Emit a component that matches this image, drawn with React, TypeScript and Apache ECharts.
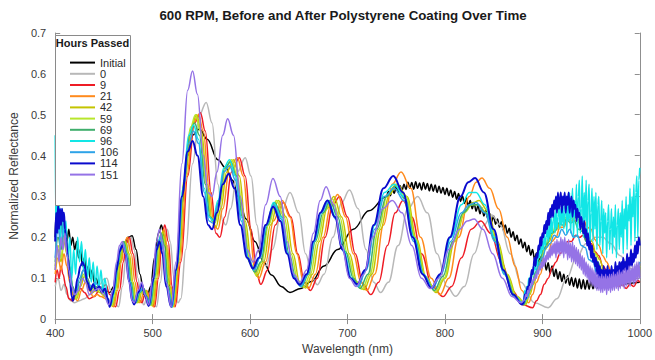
import React, { useEffect, useRef } from "react";
import * as echarts from "echarts";

type P = [number, number][];

const hourLabels = ["Initial", "0", "9", "21", "42", "59", "69", "96", "106", "114", "151"];
const lineColors = ["#000000", "#b8b8b8", "#ee1c25", "#ff8a1c", "#c4c400", "#b8e62c", "#3fae6c", "#12e6e6", "#2ea3e8", "#0a0acd", "#9573e6"];

const xTicks = [400, 500, 600, 700, 800, 900, 1000];
const yTicks = [0, 0.1, 0.2, 0.3, 0.4, 0.5, 0.6, 0.7];

// Initial: main part, then a dense noisy stretch sampled every 2 nm from 740 nm, then the end
const initialHead: P = [[400,0.2],[401,0.26],[402,0.22],[403,0.27],[404,0.21],[406,0.25],[408,0.2],[410,0.23],[412,0.19],[414,0.22],[416,0.18],[418,0.2],[420,0.17],[422,0.19],[424,0.15],[426,0.17],[428,0.13],[430,0.15],[432,0.11],[434,0.13],[436,0.1],[438,0.12],[440,0.09],[442,0.1],[445,0.08],[448,0.075],[452,0.07],[456,0.065],[460,0.08],[465,0.13],[470,0.18],[475,0.2],[479,0.204],[483,0.17],[487,0.11],[491,0.06],[494,0.05],[498,0.08],[502,0.15],[506,0.21],[509,0.23],[512,0.2],[516,0.1],[519.5,0.03],[524,0.1],[530,0.28],[536,0.4],[541,0.45],[548,0.465],[556,0.44],[567,0.39],[575,0.37],[582,0.34],[588,0.3],[596,0.245],[605,0.19],[614,0.14],[622,0.108],[632,0.08],[641,0.065],[652,0.075],[663,0.092],[676,0.13],[690,0.17],[706,0.22],[722,0.265]];
const initialNoiseStart = 740;
const initialNoise = [0.3,0.312,0.302,0.318,0.308,0.324,0.31,0.326,0.315,0.33,0.317,0.335,0.32,0.334,0.318,0.336,0.32,0.333,0.316,0.334,0.318,0.332,0.314,0.33,0.313,0.328,0.31,0.325,0.308,0.322,0.305,0.32,0.302,0.316,0.298,0.312,0.293,0.307,0.288,0.302,0.283,0.296,0.277,0.29,0.27,0.284,0.264,0.278,0.258,0.272,0.252,0.265,0.246,0.258,0.238,0.252,0.232,0.245,0.225,0.238,0.218,0.23,0.21,0.222,0.2,0.214,0.192,0.205,0.183,0.196,0.174,0.188,0.165,0.18,0.156,0.17,0.146,0.162,0.138,0.152,0.128,0.145,0.12,0.138,0.112,0.13,0.104,0.122,0.098,0.116,0.092,0.11,0.088,0.106,0.083,0.102,0.08,0.1,0.076,0.098,0.074,0.096,0.073,0.095,0.073,0.094,0.074,0.093,0.075,0.092,0.077];
const initialTail: P = [[966,0.09],[970,0.082],[975,0.09],[980,0.084],[990,0.088],[1000,0.09]];

const h0Data: P = [[400,0.08],[403,0.1],[406,0.07],[409,0.085],[412,0.06],[416,0.045],[420,0.04],[425,0.045],[430,0.05],[436,0.06],[441,0.07],[446,0.085],[450,0.098],[453,0.1],[457,0.07],[461,0.04],[465,0.03],[469,0.08],[473,0.16],[476,0.195],[478,0.2],[481,0.17],[485,0.1],[488,0.05],[491,0.035],[494,0.05],[497,0.06],[500,0.045],[504,0.03],[508,0.09],[512,0.19],[515,0.22],[518,0.19],[522,0.1],[526,0.04],[529,0.05],[534,0.17],[541,0.38],[548,0.5],[555,0.53],[561,0.48],[567,0.33],[572,0.24],[575,0.23],[580,0.27],[587,0.36],[595,0.395],[601,0.35],[607,0.23],[612,0.15],[616,0.13],[623,0.17],[632,0.26],[641,0.31],[650,0.26],[657,0.16],[664,0.1],[669,0.084],[676,0.11],[685,0.2],[694,0.285],[702,0.316],[711,0.27],[719,0.17],[727,0.09],[734,0.065],[742,0.09],[752,0.18],[762,0.27],[772,0.3],[782,0.26],[792,0.16],[802,0.08],[811,0.056],[820,0.08],[830,0.16],[840,0.23],[848,0.255],[857,0.23],[867,0.16],[878,0.09],[892,0.04],[906,0.028],[915,0.05],[925,0.1],[935,0.15],[945,0.185],[955,0.2],[962,0.2],[970,0.185],[980,0.155],[990,0.125],[1000,0.1]];

const h9Data: P = [[400,0.09],[402,0.12],[404,0.1],[406,0.13],[408,0.11],[411,0.08],[414,0.05],[418,0.045],[422,0.06],[426,0.075],[430,0.065],[435,0.05],[440,0.055],[445,0.07],[449,0.08],[452,0.084],[456,0.06],[462,0.03],[466,0.07],[470,0.14],[473,0.185],[476,0.2],[480,0.16],[484,0.09],[487,0.045],[489,0.04],[492,0.06],[495,0.065],[498,0.05],[502,0.03],[506,0.1],[510,0.21],[512.5,0.23],[516,0.19],[520,0.08],[523,0.03],[529,0.14],[536,0.35],[543,0.48],[549,0.505],[554,0.46],[560,0.31],[565,0.21],[569,0.2],[574,0.25],[581,0.36],[589,0.395],[595,0.35],[601,0.22],[607,0.11],[611,0.085],[618,0.12],[626,0.23],[634,0.285],[642,0.25],[649,0.16],[656,0.09],[662,0.07],[669,0.1],[677,0.2],[685,0.28],[692,0.3],[700,0.25],[708,0.16],[716,0.085],[724,0.06],[732,0.09],[741,0.18],[749,0.26],[757,0.29],[766,0.25],[776,0.16],[787,0.08],[798,0.055],[807,0.08],[817,0.15],[827,0.22],[837,0.24],[847,0.21],[858,0.14],[869,0.07],[880,0.035],[890,0.028],[894,0.045],[898,0.06],[902,0.085],[906,0.1],[910,0.125],[914,0.14],[918,0.16],[922,0.17],[926,0.19],[930,0.19],[934,0.205],[938,0.2],[942,0.205],[946,0.19],[950,0.185],[954,0.165],[958,0.155],[962,0.13],[966,0.12],[970,0.1],[974,0.095],[978,0.08],[982,0.085],[986,0.075],[990,0.085],[994,0.08],[998,0.095],[1000,0.09]];

const h21Data: P = [[400,0.11],[403,0.15],[406,0.12],[409,0.16],[412,0.13],[415,0.09],[419,0.055],[423,0.045],[427,0.07],[431,0.09],[435,0.07],[439,0.055],[443,0.06],[447,0.055],[452,0.05],[456,0.04],[460,0.03],[464,0.07],[468,0.14],[471,0.185],[474,0.2],[478,0.16],[482,0.09],[485,0.045],[487,0.04],[491,0.065],[494,0.07],[497,0.05],[501,0.03],[505,0.1],[509,0.2],[511.5,0.22],[515,0.18],[519,0.08],[522,0.03],[528,0.14],[535,0.35],[542,0.48],[547,0.5],[552,0.46],[558,0.32],[563,0.23],[567,0.22],[572,0.27],[579,0.37],[587,0.395],[593,0.35],[599,0.23],[605,0.12],[609,0.1],[616,0.14],[624,0.24],[633,0.29],[641,0.25],[648,0.16],[655,0.09],[660,0.075],[667,0.11],[675,0.2],[683,0.28],[690,0.305],[698,0.25],[706,0.16],[714,0.09],[720,0.07],[728,0.11],[737,0.23],[746,0.33],[755,0.36],[765,0.32],[775,0.2],[786,0.1],[795,0.06],[804,0.1],[814,0.2],[825,0.3],[832,0.335],[838,0.345],[846,0.32],[855,0.27],[864,0.2],[872,0.13],[879,0.07],[886,0.04],[890,0.06],[894,0.09],[898,0.11],[902,0.145],[906,0.16],[910,0.19],[914,0.2],[918,0.225],[922,0.225],[926,0.245],[930,0.24],[934,0.255],[938,0.24],[942,0.245],[946,0.225],[950,0.22],[954,0.195],[958,0.18],[962,0.155],[966,0.14],[970,0.12],[974,0.11],[978,0.1],[982,0.1],[986,0.09],[990,0.1],[994,0.095],[998,0.11],[1000,0.105]];

const h42Data: P = [[400,0.12],[403,0.17],[406,0.14],[409,0.19],[412,0.16],[415,0.11],[418,0.065],[422,0.05],[426,0.08],[430,0.105],[434,0.085],[438,0.065],[442,0.07],[446,0.065],[451,0.055],[455,0.04],[459,0.032],[463,0.07],[467,0.14],[470,0.18],[472,0.19],[476,0.16],[480,0.09],[483,0.045],[485,0.04],[489,0.065],[493,0.07],[496,0.05],[500,0.033],[504,0.1],[508,0.19],[510.5,0.215],[514,0.18],[518,0.08],[521,0.03],[527,0.14],[533,0.34],[540,0.47],[545,0.5],[550,0.46],[556,0.33],[561,0.24],[565,0.225],[570,0.27],[576,0.36],[583,0.39],[589,0.35],[595,0.24],[602,0.13],[607,0.105],[614,0.14],[621,0.23],[629,0.29],[637,0.25],[644,0.16],[651,0.09],[657,0.076],[664,0.11],[671,0.19],[679,0.27],[686,0.3],[694,0.25],[702,0.16],[710,0.09],[717,0.072],[725,0.11],[734,0.22],[743,0.305],[751,0.33],[761,0.3],[771,0.195],[781,0.1],[791,0.065],[800,0.1],[810,0.19],[821,0.265],[829,0.285],[835,0.29],[844,0.265],[854,0.19],[864,0.11],[874,0.055],[883,0.036],[887,0.06],[891,0.085],[895,0.115],[899,0.14],[903,0.17],[907,0.19],[911,0.21],[915,0.22],[919,0.24],[923,0.24],[927,0.255],[931,0.245],[935,0.25],[939,0.23],[943,0.225],[947,0.2],[951,0.19],[955,0.16],[959,0.145],[963,0.12],[967,0.11],[971,0.095],[975,0.095],[979,0.09],[983,0.1],[987,0.095],[991,0.11],[995,0.11],[1000,0.125]];

const h59Data: P = [[400,0.13],[403,0.18],[406,0.15],[409,0.2],[412,0.17],[415,0.12],[418,0.07],[421,0.05],[425,0.08],[429,0.11],[433,0.09],[437,0.07],[441,0.075],[445,0.07],[450,0.06],[454,0.045],[458,0.033],[462,0.07],[466,0.14],[469,0.18],[471,0.19],[475,0.16],[479,0.09],[482,0.045],[484,0.04],[488,0.065],[492,0.07],[495,0.05],[499,0.033],[503,0.1],[507,0.19],[509.5,0.21],[513,0.18],[517,0.08],[520.5,0.03],[526,0.14],[532,0.34],[539,0.47],[544,0.5],[549,0.46],[555,0.33],[560,0.25],[564,0.235],[569,0.28],[575,0.37],[581,0.39],[587,0.35],[593,0.25],[600,0.14],[606,0.11],[612,0.14],[619,0.23],[627,0.29],[635,0.25],[642,0.16],[649,0.095],[655,0.078],[662,0.11],[669,0.19],[677,0.265],[684,0.295],[692,0.25],[700,0.16],[708,0.095],[715,0.073],[723,0.11],[732,0.22],[741,0.305],[750,0.33],[760,0.3],[770,0.195],[780,0.105],[790,0.068],[799,0.1],[809,0.19],[820,0.26],[828,0.28],[834,0.28],[843,0.26],[853,0.19],[863,0.11],[873,0.055],[882,0.035],[886,0.06],[890,0.085],[894,0.115],[898,0.145],[902,0.17],[906,0.195],[910,0.21],[914,0.23],[918,0.235],[922,0.25],[926,0.245],[930,0.255],[934,0.24],[938,0.24],[942,0.215],[946,0.205],[950,0.175],[954,0.16],[958,0.13],[962,0.12],[966,0.1],[970,0.1],[974,0.09],[978,0.1],[982,0.095],[986,0.11],[990,0.105],[994,0.12],[998,0.12],[1000,0.13]];

const h69Data: P = [[400,0.14],[403,0.2],[406,0.17],[409,0.22],[412,0.19],[415,0.13],[418,0.08],[421,0.06],[425,0.09],[429,0.12],[433,0.1],[437,0.075],[441,0.08],[445,0.075],[450,0.065],[454,0.05],[457,0.035],[461,0.07],[465,0.14],[468,0.18],[470.5,0.19],[474,0.16],[478,0.09],[481,0.045],[483,0.04],[487,0.065],[491,0.075],[494,0.055],[498,0.035],[502,0.1],[506,0.19],[509,0.21],[512,0.18],[516,0.08],[520,0.03],[525,0.13],[532,0.33],[538,0.45],[543,0.48],[548,0.45],[554,0.33],[559,0.25],[563,0.24],[568,0.29],[574,0.37],[580,0.385],[586,0.35],[592,0.25],[599,0.14],[605,0.115],[611,0.14],[618,0.23],[625,0.285],[633,0.25],[640,0.16],[647,0.1],[653,0.08],[660,0.11],[667,0.19],[675,0.26],[682,0.29],[690,0.25],[698,0.165],[706,0.1],[713,0.075],[721,0.11],[730,0.22],[740,0.3],[749,0.325],[759,0.295],[769,0.195],[779,0.105],[789,0.07],[798,0.105],[808,0.19],[819,0.26],[827,0.28],[833,0.28],[842,0.26],[852,0.19],[862,0.11],[872,0.055],[881,0.035],[885,0.06],[889,0.08],[893,0.115],[897,0.14],[901,0.17],[905,0.185],[909,0.21],[913,0.215],[917,0.235],[921,0.23],[925,0.245],[929,0.235],[933,0.24],[937,0.22],[941,0.215],[945,0.19],[949,0.18],[953,0.15],[957,0.14],[961,0.115],[965,0.11],[969,0.095],[973,0.1],[977,0.09],[981,0.105],[985,0.1],[989,0.115],[993,0.11],[997,0.13],[1000,0.125]];

const h96Head: P = [[400,0.45],[401,0.2],[402,0.38],[403,0.22],[404,0.3],[405,0.18],[407,0.27],[409,0.2],[411,0.24],[413,0.14],[415,0.2],[417,0.1],[419,0.17],[421,0.11],[423,0.2],[425,0.14],[427,0.19],[429,0.12],[431,0.17],[433,0.1],[435,0.15],[437,0.09],[439,0.14],[441,0.08],[443,0.13],[445,0.08],[447,0.12],[449,0.07],[451,0.1],[454,0.05],[457,0.035],[460,0.06],[464,0.13],[467,0.17],[470,0.185],[473,0.16],[477,0.09],[480,0.045],[482,0.04],[486,0.065],[490,0.075],[493,0.055],[497,0.035],[501,0.1],[505,0.18],[508,0.2],[511,0.17],[515,0.08],[520,0.03],[525,0.13],[531,0.32],[537,0.45],[542,0.475],[547,0.44],[553,0.32],[558,0.25],[562,0.24],[567,0.29],[573,0.37],[579,0.39],[585,0.35],[591,0.25],[598,0.15],[604,0.12],[610,0.15],[617,0.23],[624,0.285],[632,0.25],[639,0.16],[646,0.1],[652,0.08],[659,0.11],[666,0.19],[673,0.26],[680,0.29],[688,0.25],[696,0.17],[704,0.1],[711,0.08],[719,0.12],[728,0.23],[738,0.31],[748,0.33],[758,0.3],[768,0.2],[778,0.11],[787,0.075],[796,0.11],[806,0.2],[817,0.28],[825,0.31],[832,0.31],[841,0.28],[851,0.2],[861,0.11],[871,0.055],[880,0.04]];
const noiseStart = 881; // 1 nm steps to 1000 nm
const h96Noise = [0.05,0.07,0.06,0.08,0.07,0.1,0.08,0.11,0.1,0.12,0.11,0.14,0.12,0.15,0.13,0.17,0.15,0.18,0.16,0.19,
  0.17,0.21,0.18,0.2,0.22,0.19,0.23,0.2,0.25,0.21,0.24,0.26,0.21,0.27,0.22,0.25,0.28,0.22,0.27,0.23,
  0.29,0.22,0.26,0.3,0.21,0.28,0.24,0.31,0.21,0.27,0.32,0.2,0.29,0.25,0.33,0.2,0.3,0.34,0.21,0.27,
  0.35,0.2,0.31,0.24,0.34,0.19,0.29,0.33,0.18,0.26,0.32,0.19,0.3,0.22,0.31,0.17,0.28,0.3,0.18,0.24,
  0.29,0.16,0.27,0.21,0.26,0.15,0.24,0.28,0.17,0.22,0.27,0.16,0.25,0.2,0.28,0.15,0.23,0.27,0.17,0.26,
  0.2,0.29,0.16,0.27,0.22,0.3,0.17,0.28,0.24,0.32,0.18,0.3,0.25,0.33,0.19,0.31,0.35,0.2,0.34,0.37];

const h106Data: P = [[400,0.15],[403,0.22],[406,0.18],[409,0.24],[412,0.17],[415,0.12],[418,0.07],[421,0.06],[425,0.1],[429,0.12],[433,0.09],[437,0.08],[441,0.09],[445,0.08],[450,0.07],[456,0.035],[460,0.07],[464,0.14],[467,0.175],[470,0.185],[473,0.16],[477,0.09],[480,0.045],[482,0.04],[486,0.065],[490,0.075],[493,0.055],[497,0.035],[501,0.1],[505,0.18],[508,0.2],[511,0.17],[515,0.08],[520,0.03],[525,0.13],[531,0.31],[537,0.43],[542,0.46],[547,0.43],[553,0.31],[558,0.24],[562,0.235],[567,0.28],[573,0.36],[579,0.375],[585,0.34],[591,0.24],[598,0.15],[604,0.12],[610,0.15],[617,0.23],[624,0.28],[632,0.245],[639,0.16],[646,0.1],[652,0.08],[659,0.11],[666,0.19],[673,0.26],[680,0.285],[688,0.245],[696,0.165],[704,0.1],[711,0.08],[719,0.12],[728,0.22],[738,0.3],[748,0.32],[758,0.29],[768,0.19],[778,0.11],[787,0.075],[796,0.11],[806,0.19],[817,0.26],[825,0.28],[832,0.285],[841,0.26],[851,0.19],[861,0.11],[871,0.055],[880,0.038],[884,0.05],[888,0.075],[892,0.1],[896,0.13],[900,0.15],[904,0.175],[908,0.185],[912,0.205],[916,0.2],[920,0.22],[924,0.205],[928,0.22],[932,0.2],[936,0.205],[940,0.18],[944,0.175],[948,0.145],[952,0.14],[956,0.11],[960,0.115],[964,0.09],[968,0.1],[972,0.085],[976,0.1],[980,0.09],[984,0.11],[988,0.1],[992,0.12],[996,0.115],[1000,0.14]];

const h114Head: P = [[400,0.19],[401,0.26],[402,0.21],[403,0.28],[404,0.22],[405,0.27],[406,0.23],[407,0.27],[408,0.24],[409,0.26],[410,0.22],[411,0.2],[413,0.15],[415,0.1],[417,0.055],[418,0.045],[420,0.06],[423,0.1],[426,0.13],[428,0.14],[430,0.13],[433,0.09],[436,0.07],[439,0.085],[442,0.07],[445,0.08],[448,0.065],[451,0.075],[454,0.05],[456,0.03],[459,0.06],[463,0.12],[466,0.165],[469,0.18],[472,0.16],[476,0.09],[479,0.045],[481,0.036],[485,0.065],[489,0.085],[492,0.06],[496,0.032],[500,0.09],[504,0.17],[507,0.19],[510,0.16],[514,0.08],[519,0.03],[524,0.12],[530,0.3],[536,0.41],[541,0.436],[546,0.4],[552,0.3],[557,0.23],[561,0.22],[566,0.26],[572,0.33],[578,0.355],[584,0.32],[590,0.23],[597,0.15],[603,0.124],[609,0.15],[616,0.23],[623.7,0.275],[631,0.24],[638,0.16],[645,0.1],[651,0.084],[658,0.11],[665,0.19],[672,0.26],[679.5,0.29],[687,0.25],[695,0.17],[703,0.1],[710,0.085],[718,0.12],[727,0.23],[737,0.32],[747,0.35],[757,0.31],[767,0.2],[777,0.11],[786,0.076],[795,0.11],[805,0.2],[816,0.3],[824,0.335],[831,0.345],[840,0.31],[850,0.22],[860,0.12],[870,0.06],[879,0.036]];
const h114Noise = [0.04,0.06,0.05,0.07,0.08,0.07,0.1,0.09,0.12,0.11,0.13,0.15,0.13,0.16,0.15,0.18,0.17,0.2,0.18,0.21,
  0.2,0.23,0.21,0.24,0.22,0.26,0.23,0.27,0.25,0.28,0.25,0.29,0.27,0.3,0.26,0.31,0.27,0.29,0.31,0.26,
  0.3,0.28,0.31,0.26,0.3,0.28,0.31,0.26,0.29,0.3,0.25,0.29,0.27,0.28,0.24,0.27,0.25,0.26,0.22,0.25,
  0.23,0.21,0.24,0.2,0.22,0.18,0.21,0.17,0.19,0.15,0.18,0.14,0.16,0.13,0.15,0.11,0.14,0.1,0.13,0.1,
  0.12,0.09,0.13,0.08,0.12,0.1,0.13,0.09,0.12,0.08,0.13,0.1,0.12,0.09,0.14,0.1,0.13,0.1,0.14,0.11,
  0.14,0.11,0.15,0.12,0.14,0.11,0.16,0.12,0.15,0.13,0.17,0.13,0.16,0.14,0.18,0.15,0.19,0.16,0.2,0.18];

const h151Head: P = [[400,0.12],[402,0.18],[404,0.14],[406,0.2],[408,0.17],[410,0.21],[412,0.16],[414,0.12],[417,0.08],[420,0.06],[424,0.07],[428,0.1],[431,0.09],[435,0.06],[440,0.07],[445,0.075],[450,0.06],[455,0.035],[459,0.07],[463,0.14],[466,0.18],[469,0.19],[472,0.16],[476,0.09],[479,0.045],[481,0.04],[485,0.07],[489,0.09],[492,0.06],[496,0.035],[500,0.1],[504,0.19],[507,0.22],[510,0.19],[514,0.09],[519,0.03],[524,0.14],[530,0.38],[536,0.56],[541,0.607],[546,0.55],[552,0.4],[557,0.31],[561,0.3],[566,0.36],[572,0.45],[577,0.49],[583,0.45],[590,0.3],[597,0.17],[603,0.14],[609,0.17],[616,0.28],[623.5,0.344],[631,0.3],[638,0.19],[645,0.11],[651,0.09],[658,0.12],[665,0.21],[672,0.29],[678,0.324],[686,0.28],[694,0.18],[702,0.1],[709,0.08],[717,0.11],[726,0.2],[736,0.27],[746,0.29],[756,0.26],[766,0.18],[776,0.1],[785,0.075],[794,0.1],[804,0.17],[815,0.22],[823,0.24],[830,0.245],[839,0.22],[849,0.16],[859,0.1],[869,0.055],[878,0.04]];
const h151Noise = [0.045,0.05,0.06,0.055,0.07,0.065,0.08,0.075,0.09,0.085,0.1,0.095,0.11,0.1,0.12,0.11,0.13,0.12,0.14,0.125,
  0.15,0.13,0.155,0.14,0.165,0.145,0.17,0.15,0.18,0.155,0.185,0.16,0.19,0.15,0.195,0.16,0.19,0.155,0.2,0.16,
  0.195,0.15,0.2,0.16,0.19,0.145,0.195,0.15,0.185,0.14,0.19,0.14,0.18,0.135,0.175,0.13,0.17,0.125,0.16,0.12,
  0.155,0.11,0.15,0.105,0.14,0.1,0.135,0.09,0.13,0.085,0.125,0.08,0.12,0.075,0.115,0.07,0.11,0.07,0.105,0.065,
  0.11,0.065,0.105,0.07,0.11,0.06,0.105,0.07,0.11,0.065,0.11,0.07,0.115,0.07,0.11,0.075,0.115,0.07,0.12,0.075,
  0.115,0.08,0.12,0.075,0.125,0.08,0.12,0.085,0.13,0.08,0.125,0.09,0.13,0.085,0.135,0.09,0.14,0.095,0.14,0.1];

const sampled = (start: number, step: number, ys: number[]): P => ys.map((y, i) => [start + i * step, y]);

const seriesData: P[] = [
  [...initialHead, ...sampled(initialNoiseStart, 2, initialNoise), ...initialTail],
  h0Data, h9Data, h21Data, h42Data, h59Data, h69Data,
  [...h96Head, ...sampled(noiseStart, 1, h96Noise)],
  h106Data,
  [...h114Head, ...sampled(noiseStart, 1, h114Noise)],
  [...h151Head, ...sampled(noiseStart, 1, h151Noise)],
];

const FONT = "'Liberation Sans', Arial, Helvetica, sans-serif";

export default function App() {
  const ref = useRef<HTMLDivElement>(null);
  useEffect(() => {
    if (!ref.current) return;
    const chart = echarts.init(ref.current, undefined, { renderer: "svg" });
    const axisColor = "#8f8f8f";
    const labelColor = "#3a3a3a";
    const option: any = {
      animation: false,
      backgroundColor: "#ffffff",
      textStyle: { fontFamily: FONT },
      grid: { left: 47, right: 15, top: 33, bottom: 35, show: false },
      legend: {
        data: hourLabels,
        orient: "vertical",
        left: 64,
        top: 52,
        itemWidth: 25,
        itemHeight: 14,
        itemGap: 0,
        selectedMode: false,
        z: 60,
        itemStyle: { opacity: 0 },
        textStyle: { fontFamily: FONT, fontSize: 11, color: "#2a2a2a" },
      },
      graphic: [
        {
          type: "text",
          z: 61,
          x: 343,
          y: 15,
          style: {
            text: "600 RPM, Before and After Polystyrene Coating Over Time",
            fontFamily: FONT,
            fontSize: 13.3,
            fontWeight: "bold",
            fill: "#1a1a1a",
            textAlign: "center",
            textVerticalAlign: "middle",
          },
        },
        {
          type: "rect",
          z: 50,
          shape: { x: 55.5, y: 35.5, width: 75, height: 170 },
          style: { fill: "#ffffff", stroke: "#8a8a8a", lineWidth: 1 },
        },
        {
          type: "text",
          z: 61,
          x: 92.5,
          y: 43,
          style: {
            text: "Hours Passed",
            fontFamily: FONT,
            fontSize: 11,
            fontWeight: "bold",
            fill: "#1a1a1a",
            textAlign: "center",
            textVerticalAlign: "middle",
          },
        },
      ],
      xAxis: [
        {
          type: "value",
          min: xTicks[0],
          max: xTicks[xTicks.length - 1],
          interval: 100,
          position: "bottom",
          name: "Wavelength (nm)",
          nameLocation: "middle",
          nameGap: 20,
          nameTextStyle: { fontFamily: FONT, fontSize: 12, color: labelColor },
          axisLine: { lineStyle: { color: axisColor, width: 1 } },
          axisTick: { inside: true, length: 5, lineStyle: { color: axisColor } },
          axisLabel: { fontFamily: FONT, fontSize: 11, color: labelColor, margin: 8, formatter: (v: number) => String(v) },
          splitLine: { show: false },
        },
        {
          type: "value",
          min: xTicks[0],
          max: xTicks[xTicks.length - 1],
          interval: 100,
          position: "top",
          axisLine: { lineStyle: { color: axisColor, width: 1 } },
          axisTick: { inside: true, length: 5, lineStyle: { color: axisColor } },
          axisLabel: { show: false },
          splitLine: { show: false },
        },
      ],
      yAxis: [
        {
          type: "value",
          min: yTicks[0],
          max: yTicks[yTicks.length - 1],
          interval: 0.1,
          position: "left",
          name: "Normalized Reflectance",
          nameLocation: "middle",
          nameGap: 28,
          nameTextStyle: { fontFamily: FONT, fontSize: 12, color: labelColor },
          axisLine: { show: true, lineStyle: { color: axisColor, width: 1 } },
          axisTick: { show: true, inside: true, length: 5, lineStyle: { color: axisColor } },
          axisLabel: {
            fontFamily: FONT,
            fontSize: 11,
            color: labelColor,
            margin: 9,
            formatter: (v: number) => (v === 0 ? "0" : v.toFixed(1)),
          },
          splitLine: { show: false },
        },
        {
          type: "value",
          min: yTicks[0],
          max: yTicks[yTicks.length - 1],
          interval: 0.1,
          position: "right",
          axisLine: { show: true, lineStyle: { color: axisColor, width: 1 } },
          axisTick: { show: true, inside: true, length: 5, lineStyle: { color: axisColor } },
          axisLabel: { show: false },
          splitLine: { show: false },
        },
      ],
      series: hourLabels.map((name, i) => ({
        name,
        type: "line",
        xAxisIndex: 0,
        yAxisIndex: 0,
        data: seriesData[i],
        symbol: "none",
        smooth: 0.4,
        smoothMonotone: "x",
        color: lineColors[i],
        lineStyle: { color: lineColors[i], width: i === 9 ? 2 : 1.5 },
        z: 2,
      })),
    };
    chart.setOption(option);
    return () => chart.dispose();
  }, []);
  return <div ref={ref} style={{ position: "fixed", left: 0, top: 0, width: 655, height: 360 }} />;
}
